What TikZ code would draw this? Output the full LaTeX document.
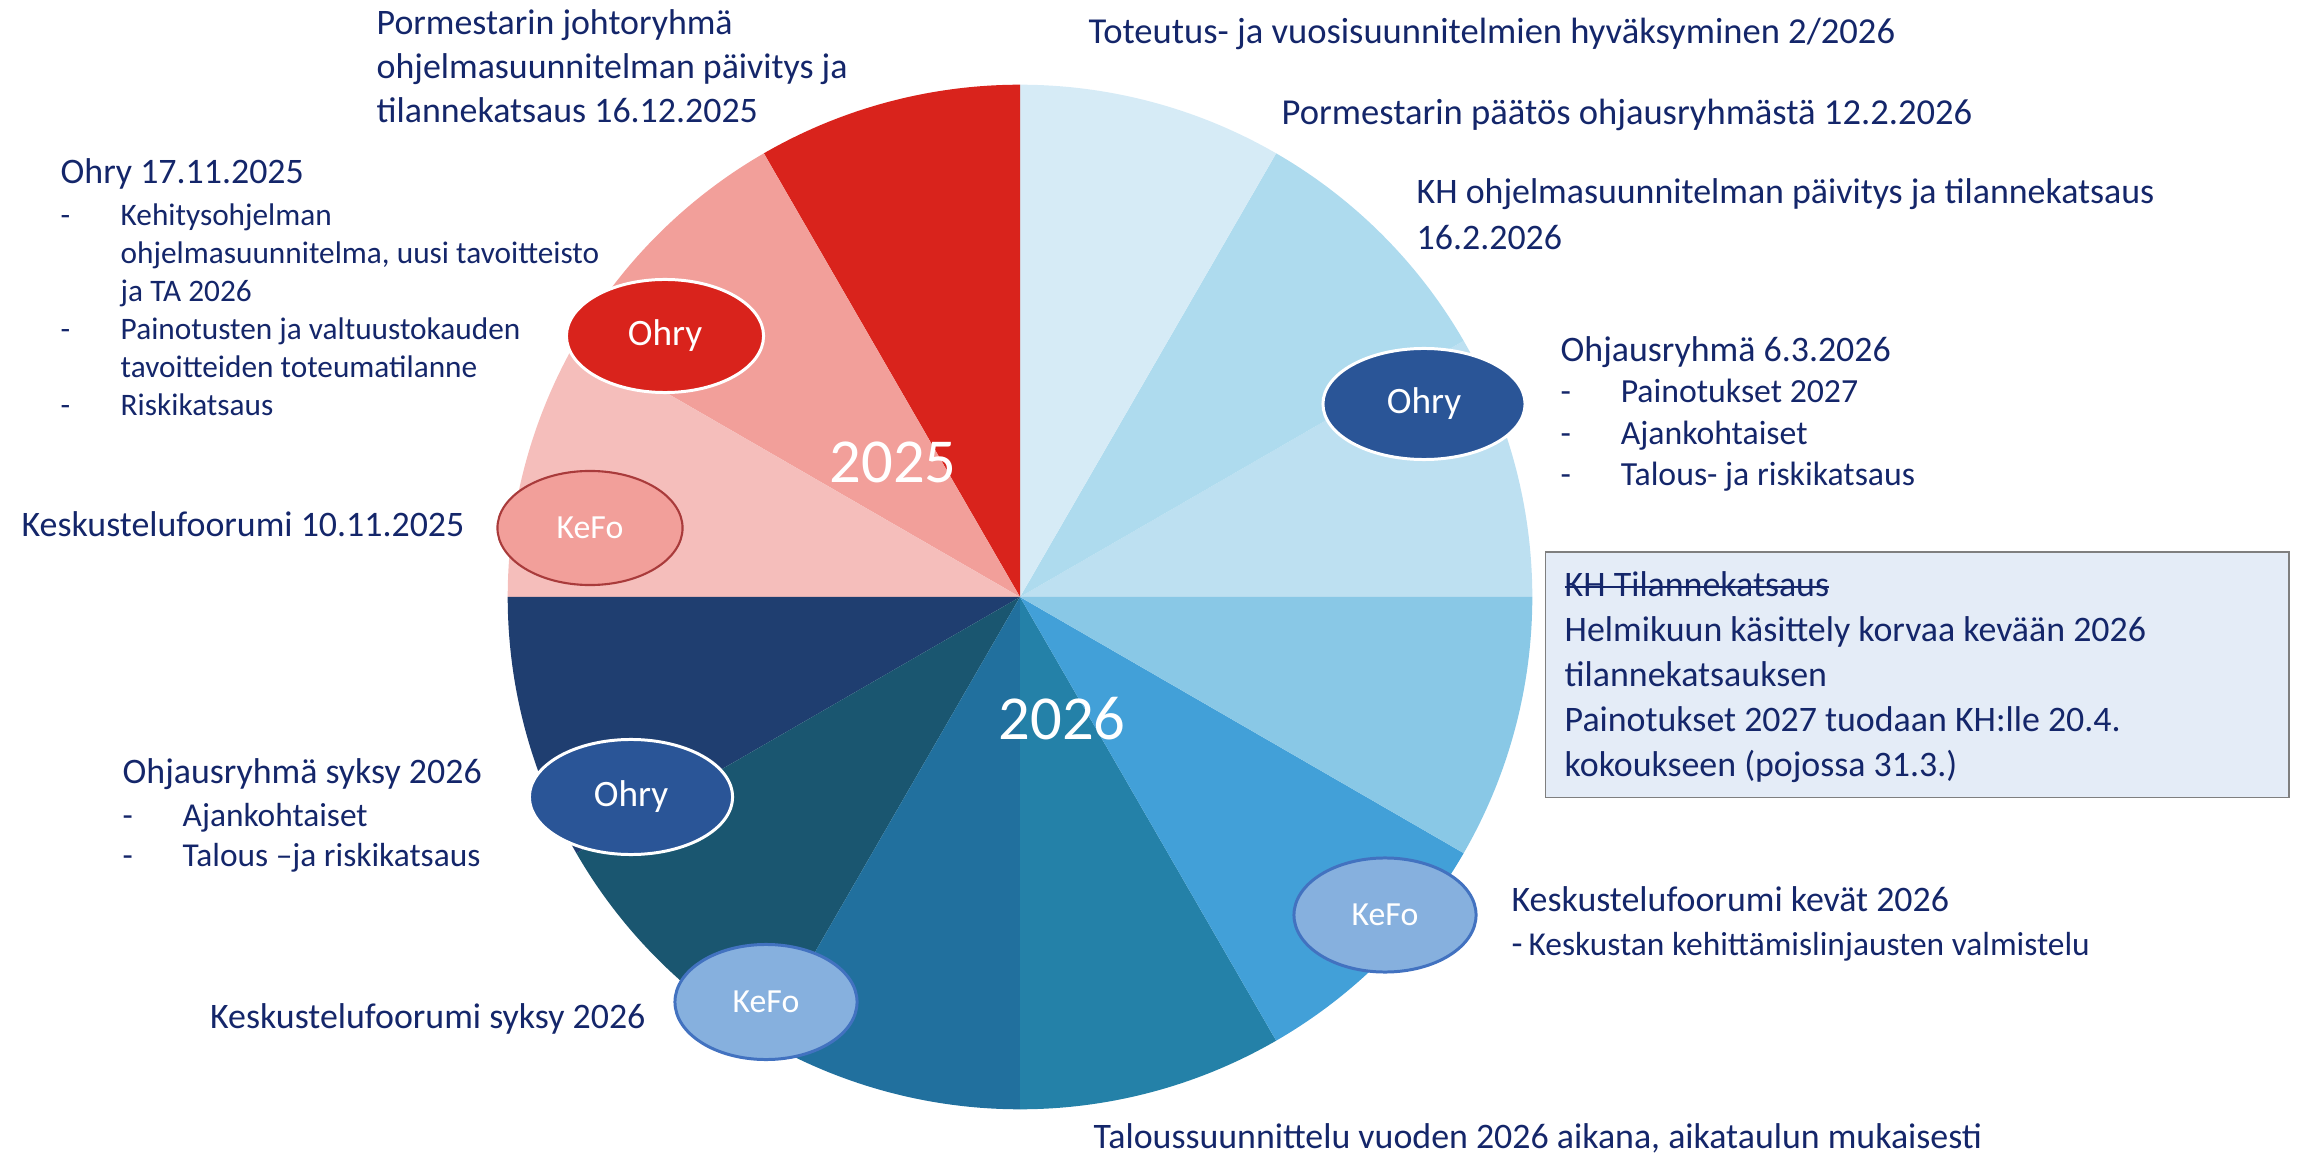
\documentclass[tikz,border=0pt]{standalone}
\usepackage{fontspec}
\setmainfont{Carlito}
\usetikzlibrary{shapes.geometric}
\definecolor{txt}{HTML}{14266A}
\definecolor{sA}{HTML}{BDE0F1}
\definecolor{sB}{HTML}{AEDBEE}
\definecolor{sC}{HTML}{D6EBF6}
\definecolor{sD}{HTML}{D9231C}
\definecolor{sE}{HTML}{F29F9A}
\definecolor{sF}{HTML}{F5BEBB}
\definecolor{sG}{HTML}{1F3E70}
\definecolor{sH}{HTML}{1A5670}
\definecolor{sI}{HTML}{21709E}
\definecolor{sJ}{HTML}{2481A8}
\definecolor{sK}{HTML}{42A0D8}
\definecolor{sL}{HTML}{89C8E6}
\definecolor{ohryblue}{HTML}{2A5597}
\definecolor{kefoblue}{HTML}{86B0DE}
\definecolor{kefoedge}{HTML}{4272C0}
\definecolor{kefored}{HTML}{A93B3B}
\definecolor{boxfill}{HTML}{E4ECF7}
\definecolor{boxedge}{HTML}{7F7F7F}
\newcommand{\mlines}[1]{\begin{tabular}[t]{@{}l@{}}#1\end{tabular}}
\newcommand{\dl}{\makebox[0.6cm][l]{-}}
\newcommand{\ind}{\hspace*{0.6cm}}
\newcommand{\strk}[1]{\setbox0\hbox{#1}\rlap{\rule[0.25em]{\wd0}{0.45pt}}#1}
\begin{document}
\begin{tikzpicture}[x=0.01cm,y=0.01cm,
  ttl/.style={anchor=base west, inner sep=0pt, text=txt, font=\fontsize{10.2}{12.5}\selectfont},
  lgt/.style={ttl, font=\fontsize{10.4}{12.5}\selectfont},
  bul/.style={anchor=base west, inner sep=0pt, text=txt, font=\fontsize{8.9}{10.8}\selectfont},
  bubble/.style={ellipse, inner sep=0pt, text=white, font=\fontsize{10.6}{12}\selectfont, line width=0.85pt},
  kefo/.style={bubble, font=\fontsize{9.6}{11}\selectfont},
  year/.style={inner sep=0pt, text=white, font=\fontsize{17.8}{21}\selectfont}]
\useasboundingbox (0,0) rectangle (2300,1154);
\coordinate (C) at (1020,557);
% pie slices
\foreach \a/\b/\c in {0/30/sA,30/60/sB,60/90/sC,90/120/sD,120/150/sE,150/180/sF,180/210/sG,210/240/sH,240/270/sI,270/300/sJ,300/330/sK,330/360/sL}
  \fill[\c] (C) -- ++(\a:5.12cm) arc[start angle=\a, end angle=\b, radius=5.12cm] -- cycle;
% year labels
\node[year] (y25) at (893,692) {2025};
\node[year] (y26) at (1062,435) {2026};
% bubbles
\node[bubble, fill=sD, draw=white, minimum width=1.97cm, minimum height=1.13cm] (ohryA) at (665,818) {Ohry};
\node[kefo, fill=sE, draw=kefored, line width=0.6pt, minimum width=1.85cm, minimum height=1.14cm] (kefoA) at (590,626) {KeFo};
\node[bubble, fill=ohryblue, draw=white, minimum width=2.02cm, minimum height=1.11cm] (ohryB) at (1424,750) {Ohry};
\node[bubble, fill=ohryblue, draw=white, minimum width=2.03cm, minimum height=1.15cm] (ohryC) at (631,357) {Ohry};
\node[kefo, fill=kefoblue, draw=kefoedge, minimum width=1.82cm, minimum height=1.15cm] (kefoB) at (766,152) {KeFo};
\node[kefo, fill=kefoblue, draw=kefoedge, minimum width=1.82cm, minimum height=1.14cm] (kefoC) at (1385,239) {KeFo};
% left texts
\node[ttl] (t1) at (376,1119) {\mlines{Pormestarin johtoryhmä\\ ohjelmasuunnitelman päivitys ja\\ tilannekatsaus 16.12.2025}};
\node[ttl] (t2) at (60,970) {Ohry 17.11.2025};
\node[bul] (b2) at (60,928.3) {\mlines{\dl Kehitysohjelman\\ \ind ohjelmasuunnitelma, uusi tavoitteisto\\ \ind ja TA 2026\\ \dl Painotusten ja valtuustokauden\\ \ind tavoitteiden toteumatilanne\\ \dl Riskikatsaus}};
\node[ttl] (t3) at (21,617) {Keskustelufoorumi 10.11.2025};
\node[ttl] (t10) at (122,370.7) {Ohjausryhmä syksy 2026};
\node[bul, font=\fontsize{9.5}{11.6}\selectfont] (b10) at (122,328) {\mlines{\dl Ajankohtaiset\\ \dl Talous –ja riskikatsaus}};
\node[ttl] (t11) at (209.5,125.7) {Keskustelufoorumi syksy 2026};
% right texts
\node[lgt] (t4) at (1088,1110) {Toteutus- ja vuosisuunnitelmien hyväksyminen 2/2026};
\node[lgt] (t5) at (1281,1029.6) {Pormestarin päätös ohjausryhmästä 12.2.2026};
\node[ttl, font=\fontsize{10.2}{12.8}\selectfont] (t6) at (1416,950) {\mlines{KH ohjelmasuunnitelman päivitys ja tilannekatsaus\\ 16.2.2026}};
\node[ttl] (t7) at (1560,792.5) {Ohjausryhmä 6.3.2026};
\node[bul, font=\fontsize{9.6}{11.8}\selectfont] (b7) at (1560,751) {\mlines{\dl Painotukset 2027\\ \dl Ajankohtaiset\\ \dl Talous- ja riskikatsaus}};
\node[draw=boxedge, fill=boxfill, line width=0.45pt, minimum width=7.435cm, minimum height=2.45cm, anchor=north west, inner sep=0pt] (box) at (1544.5,602.5) {};
\node[ttl, font=\fontsize{10.2}{12.8}\selectfont] (t8) at (1564,557.3) {\mlines{\strk{KH Tilannekatsaus}\\ Helmikuun käsittely korvaa kevään 2026\\ tilannekatsauksen\\ Painotukset 2027 tuodaan KH:lle 20.4.\\ kokoukseen (pojossa 31.3.)}};
\node[ttl] (t9) at (1511,243) {Keskustelufoorumi kevät 2026};
\node[ttl] (b9) at (1511,199) {-\,{\fontsize{9.5}{11}\selectfont Keskustan kehittämislinjausten valmistelu}};
\node[ttl] (t12) at (1093,6) {Taloussuunnittelu vuoden 2026 aikana, aikataulun mukaisesti};
\end{tikzpicture}
\end{document}
